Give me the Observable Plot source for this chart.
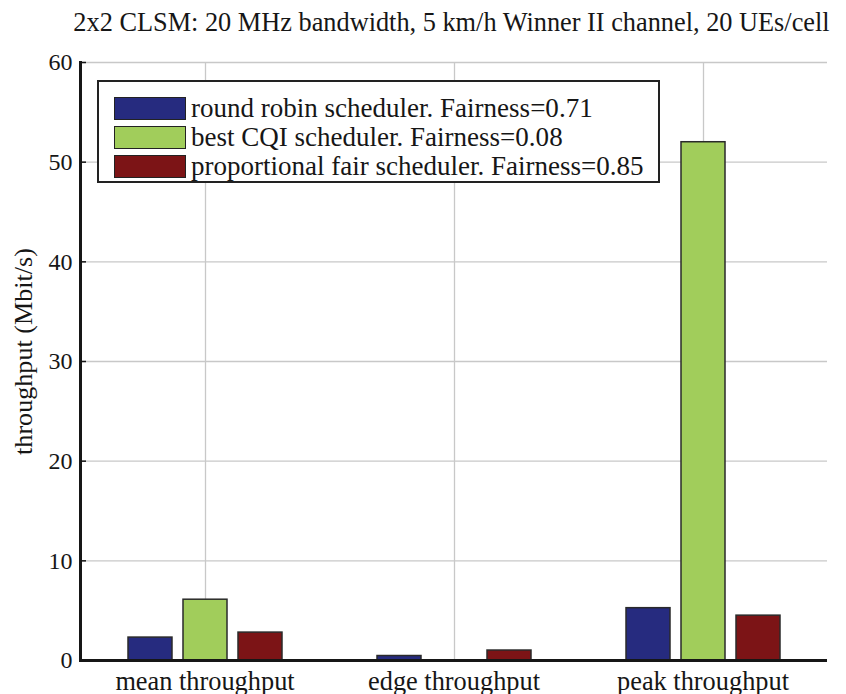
<!DOCTYPE html>
<html><head><meta charset="utf-8">
<script src="https://cdn.jsdelivr.net/npm/d3@7"></script>
<script src="https://cdn.jsdelivr.net/npm/@observablehq/plot@0.6"></script>
<style>
body{margin:0;background:#fff;}
#wrap{position:relative;width:846px;height:694px;overflow:hidden;font-family:"Liberation Serif",serif;color:#161616;}
#chart{position:absolute;left:0;top:0;}
#title{position:absolute;left:0;width:903px;text-align:center;white-space:nowrap;}
#legend{position:absolute;left:97px;top:80px;width:563px;height:103px;border:2px solid #222;background:#fff;box-sizing:border-box;}
.row{position:absolute;left:15px;height:23px;white-space:nowrap;}
.sw{position:absolute;left:0;top:0;width:72px;height:23px;box-sizing:border-box;border:1.5px solid #222;}
.lt{position:absolute;left:77px;line-height:22px;}
</style>
</head><body>
<div id="wrap">
  <div id="chart"></div>
  <div id="title"></div>
  <div id="legend"></div>
</div>
<script>
const titleText = "2x2 CLSM: 20 MHz bandwidth, 5 km/h Winner II channel, 20 UEs/cell";
const yLabel = "throughput (Mbit/s)";
const categories = ["mean throughput", "edge throughput", "peak throughput"];
const schedulers = ["round robin scheduler", "best CQI scheduler", "proportional fair scheduler"];
const fairness = ["0.71", "0.08", "0.85"];
const colors = ["#262b7f", "#a1cd5b", "#7c1416"];
const roundRobin = [2.3, 0.45, 5.25];
const bestCQI = [6.1, 0, 52.0];
const propFair = [2.8, 1.0, 4.5];
const yTicks = [0, 10, 20, 30, 40, 50, 60];

// font sizes chosen so that text widths match the reference
const ctx = document.createElement("canvas").getContext("2d");
function fit(text, target) {
  ctx.font = '100px "Liberation Serif"';
  return 100 * target / ctx.measureText(text).width;
}
const legendTexts = schedulers.map((s, i) => s + ". Fairness=" + fairness[i]);
const fsTitle = fit(titleText, 757);
const fsLegend = fit(legendTexts[0], 402);
const fsX = fit(categories[2], 172);
const fsTick = fit("40", 24);
const fsYLabel = fit(yLabel, 207);

const seriesValues = [roundRobin, bestCQI, propFair];
const rows = [];
categories.forEach((c, i) => schedulers.forEach((s, j) => rows.push({category: c, scheduler: s, value: seriesValues[j][i]})));
const centers = categories.map(c => ({category: c, scheduler: schedulers[1]}));

const title = document.getElementById("title");
title.textContent = titleText;
title.style.fontSize = fsTitle + "px";
title.style.lineHeight = fsTitle + "px";
title.style.top = (32 - 0.8375 * fsTitle) + "px";

const plot = Plot.plot({
  width: 846, height: 694,
  marginLeft: 80, marginRight: 19, marginTop: 62, marginBottom: 34,
  style: {fontFamily: "Liberation Serif", fontSize: fsTick + "px", color: "#161616", background: "transparent"},
  fx: {domain: categories, padding: 0},
  x: {domain: schedulers, paddingInner: 0.2, paddingOuter: 0.83, axis: null},
  y: {domain: [0, 60]},
  color: {domain: schedulers, range: colors},
  marks: [
    Plot.gridY(yTicks, {stroke: "#c8c8c8", strokeOpacity: 1, strokeWidth: 1.3}),
    Plot.ruleX(centers, {fx: "category", x: "scheduler", stroke: "#c8c8c8", strokeWidth: 1.3}),
    Plot.barY(rows, {fx: "category", x: "scheduler", y: "value", fill: "scheduler", stroke: "#2a2a2a", strokeWidth: 1.5}),
    Plot.ruleY([0], {stroke: "#161616", strokeWidth: 3}),
    Plot.frame({anchor: "left", stroke: "#161616", strokeWidth: 3, facet: "super"}),
    Plot.axisY(yTicks, {text: null, tickSize: 6, dx: 6, label: null, strokeWidth: 1.5}),
    Plot.axisY(yTicks, {tickSize: 0, tickPadding: 8, fontSize: fsTick, label: yLabel, labelAnchor: "center", labelArrow: "none", labelOffset: 67}),
    Plot.axisFx({anchor: "bottom", tickSize: 0, tickPadding: 689 - 660 - 0.71 * fsX, fontSize: fsX, label: null})
  ]
});
document.getElementById("chart").appendChild(plot);
// y label: reference size, and centred slightly above the middle of the frame
plot.querySelectorAll("[aria-label='y-axis label'] text, [aria-label='y-axis label']").forEach(n => {
  n.setAttribute("font-size", fsYLabel);
  if (n.tagName.toLowerCase() === "text") {
    n.setAttribute("transform", (n.getAttribute("transform") || "") + " translate(10,0)");
  }
});

const legend = document.getElementById("legend");
schedulers.forEach((s, i) => {
  const row = document.createElement("div");
  row.className = "row";
  row.style.top = (15 + i * 29.2) + "px";
  const sw = document.createElement("div");
  sw.className = "sw";
  sw.style.background = colors[i];
  const lt = document.createElement("div");
  lt.className = "lt";
  lt.style.fontSize = fsLegend + "px";
  lt.style.top = (9 - 0.3375 * fsLegend) + "px";
  lt.textContent = legendTexts[i];
  row.appendChild(sw); row.appendChild(lt);
  legend.appendChild(row);
});
</script>
</body></html>
